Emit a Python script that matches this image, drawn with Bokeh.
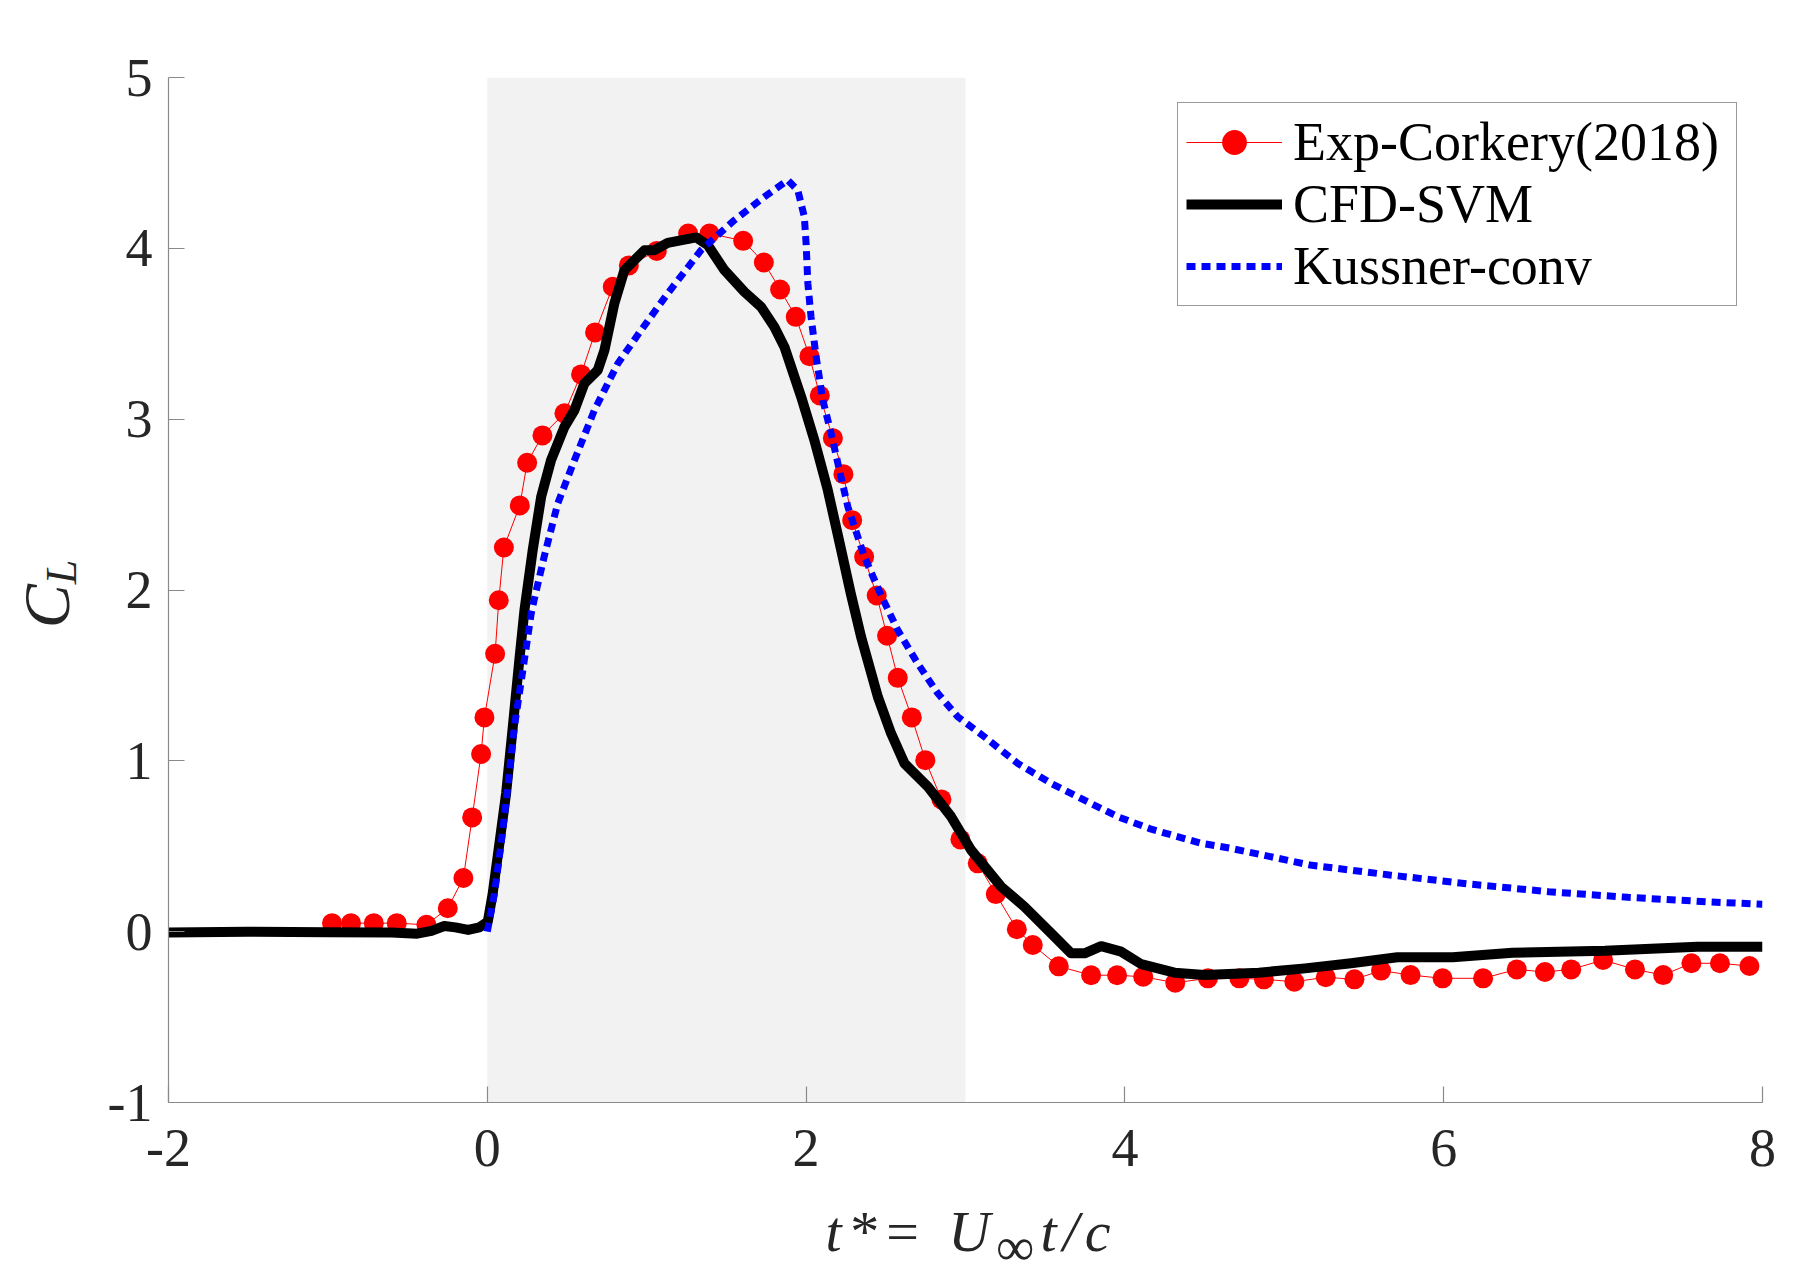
from bokeh.plotting import figure
from bokeh.models import Range1d, FixedTicker, Legend, LegendItem, Div
from bokeh.layouts import column, row
from bokeh.embed import file_html
from bokeh.resources import INLINE

# ---------------- data ----------------
exp_t = [-0.974, -0.855, -0.712, -0.568, -0.382, -0.248, -0.150, -0.095, -0.039, -0.018,
         0.049, 0.072, 0.104, 0.204, 0.250, 0.346, 0.484, 0.588, 0.676, 0.787,
         0.888, 1.063, 1.260, 1.394, 1.605, 1.735, 1.837, 1.935, 2.021, 2.086,
         2.168, 2.234, 2.289, 2.364, 2.443, 2.508, 2.575, 2.663, 2.748, 2.849,
         2.968, 3.077, 3.190, 3.322, 3.422, 3.585, 3.788, 3.951, 4.115, 4.316,
         4.521, 4.718, 4.872, 5.063, 5.260, 5.440, 5.607, 5.792, 5.993, 6.247,
         6.458, 6.635, 6.800, 7.000, 7.200, 7.377, 7.554, 7.733, 7.918]
exp_cl = [0.05, 0.05, 0.05, 0.05, 0.04, 0.137, 0.314, 0.669, 1.040, 1.254,
          1.627, 1.940, 2.249, 2.495, 2.745, 2.905, 3.034, 3.262, 3.508, 3.775,
          3.900, 3.985, 4.087, 4.087, 4.044, 3.917, 3.759, 3.599, 3.369, 3.139,
          2.889, 2.678, 2.409, 2.194, 1.968, 1.732, 1.486, 1.254, 1.004, 0.774,
          0.540, 0.400, 0.220, 0.014, -0.078, -0.203, -0.255, -0.255, -0.264, -0.299,
          -0.273, -0.273, -0.279, -0.293, -0.267, -0.279, -0.228, -0.254, -0.273, -0.273,
          -0.221, -0.236, -0.221, -0.166, -0.221, -0.254, -0.185, -0.185, -0.201]

cfd_t = [-2.0, -1.5, -1.0, -0.6, -0.44, -0.35, -0.27, -0.20, -0.12, -0.05,
         0.003, 0.034, 0.076, 0.118, 0.160, 0.201, 0.233, 0.285, 0.338, 0.400,
         0.484, 0.547, 0.609, 0.693, 0.735, 0.797, 0.860, 0.986, 1.048, 1.132,
         1.310, 1.383, 1.488, 1.613, 1.718, 1.801, 1.864, 1.969, 2.052, 2.136,
         2.215, 2.280, 2.345, 2.450, 2.533, 2.617, 2.764, 2.910, 3.035, 3.224,
         3.370, 3.538, 3.663, 3.747, 3.851, 3.977, 4.102, 4.311, 4.500, 4.840,
         5.130, 5.419, 5.709, 6.056, 6.432, 7.011, 7.591, 8.0]
cfd_cl = [-0.005, 0.0, -0.003, -0.005, -0.012, 0.005, 0.033, 0.025, 0.010, 0.025,
          0.058, 0.224, 0.517, 0.810, 1.200, 1.590, 1.882, 2.234, 2.546, 2.760,
          2.955, 3.053, 3.209, 3.287, 3.404, 3.677, 3.872, 3.989, 3.989, 4.032,
          4.064, 4.019, 3.872, 3.745, 3.657, 3.540, 3.423, 3.131, 2.877, 2.585,
          2.255, 1.980, 1.726, 1.375, 1.161, 0.985, 0.848, 0.673, 0.478, 0.263,
          0.146, -0.010, -0.127, -0.127, -0.085, -0.117, -0.190, -0.240, -0.254, -0.240,
          -0.215, -0.185, -0.150, -0.150, -0.123, -0.112, -0.088, -0.088]

kus_t = [0.0, 0.045, 0.087, 0.129, 0.170, 0.223, 0.275, 0.296, 0.358, 0.442,
         0.547, 0.672, 0.819, 0.965, 1.132, 1.341, 1.550, 1.738, 1.885, 1.948,
         1.989, 2.000, 2.011, 2.031, 2.063, 2.105, 2.157, 2.209, 2.262, 2.366,
         2.470, 2.575, 2.700, 2.826, 2.951, 3.118, 3.328, 3.537, 3.746, 3.955,
         4.165, 4.479, 4.663, 5.162, 5.660, 6.159, 6.658, 7.157, 7.655, 8.0]
kus_cl = [0.0, 0.224, 0.517, 0.849, 1.200, 1.531, 1.860, 1.951, 2.200, 2.507,
          2.760, 3.053, 3.326, 3.521, 3.736, 3.989, 4.165, 4.301, 4.399, 4.340,
          4.184, 4.028, 3.794, 3.599, 3.365, 3.112, 2.917, 2.702, 2.487, 2.194,
          1.970, 1.765, 1.570, 1.395, 1.258, 1.141, 0.985, 0.868, 0.770, 0.673,
          0.600, 0.517, 0.488, 0.390, 0.332, 0.279, 0.234, 0.201, 0.175, 0.160]

shade_t = [0.0, 3.0]
x_ticks = [-2, 0, 2, 4, 6, 8]
y_ticks = [-1, 0, 1, 2, 3, 4, 5]
x_tick_labels = {-2: "-2", 0: "0", 2: "2", 4: "4", 6: "6", 8: "8"}
y_tick_labels = {-1: "-1", 0: "0", 1: "1", 2: "2", 3: "3", 4: "4", 5: "5"}
series_names = ["Exp-Corkery(2018)", "CFD-SVM", "Kussner-conv"]

SERIF = "Liberation Serif"
AX_GRAY = "#262626"

LEFT_DIV_W = 90
FRAME_W, FRAME_H = 1594, 1025
P_LEFT, P_RIGHT, P_TOP, P_BOTTOM = 78, 44, 77, 100
P_H = P_TOP + FRAME_H + P_BOTTOM
X_DIV_H = 80

p = figure(frame_width=FRAME_W, frame_height=FRAME_H,
           x_range=Range1d(x_ticks[0], x_ticks[-1]),
           y_range=Range1d(y_ticks[0], y_ticks[-1]),
           output_backend="svg", toolbar_location=None,
           min_border_left=P_LEFT, min_border_right=P_RIGHT,
           min_border_top=P_TOP, min_border_bottom=P_BOTTOM)
p.outline_line_color = None
p.background_fill_color = "white"
p.border_fill_color = "white"
p.xgrid.visible = False
p.ygrid.visible = False

# shaded region
p.quad(left=shade_t[0], right=shade_t[1], bottom=y_ticks[0], top=y_ticks[-1],
       fill_color="#f2f2f2", line_color=None)

r_line = p.line(exp_t, exp_cl, line_color="#ff0000", line_width=1)
r_pts = p.scatter(exp_t, exp_cl, size=20, fill_color="#ff0000", line_color=None)
r_cfd = p.line(cfd_t, cfd_cl, line_color="black", line_width=10, line_join="round")
r_kus = p.line(kus_t, kus_cl, line_color="#0000ff", line_width=7, line_dash="9 6")

# axes
for ax in (p.xaxis[0], p.yaxis[0]):
    ax.axis_line_color = "#8a8a8a"
    ax.axis_line_width = 1.2
    ax.major_tick_line_color = "#8a8a8a"
    ax.major_tick_line_width = 1.2
    ax.major_tick_in = 16
    ax.major_tick_out = 0
    ax.minor_tick_line_color = None
    ax.major_label_text_font = SERIF
    ax.major_label_text_font_size = "54px"
    ax.major_label_text_color = AX_GRAY
    ax.axis_label = None

p.xaxis[0].ticker = FixedTicker(ticks=x_ticks)
p.yaxis[0].ticker = FixedTicker(ticks=y_ticks)
p.xaxis[0].major_label_overrides = x_tick_labels
p.yaxis[0].major_label_overrides = y_tick_labels
p.xaxis[0].major_label_standoff = 27
p.yaxis[0].major_label_standoff = 16

# legend
legend = Legend(items=[
    LegendItem(label=series_names[0], renderers=[r_line, r_pts]),
    LegendItem(label=series_names[1], renderers=[r_cfd]),
    LegendItem(label=series_names[2], renderers=[r_kus]),
], location="top_right")
legend.margin = 25
legend.padding = 8
legend.spacing = 0
legend.label_height = 62
legend.glyph_height = 62
legend.glyph_width = 96
legend.label_standoff = 11
legend.label_width = 435
legend.label_text_font = SERIF
legend.label_text_font_size = "54px"
legend.label_text_color = "black"
legend.border_line_color = "#333333"
legend.border_line_width = 1
legend.background_fill_color = "white"
legend.background_fill_alpha = 1.0
p.add_layout(legend)

# axis titles (with sub-scripts) as real HTML text
font_css = "font-family:'Liberation Serif',serif;color:%s;white-space:nowrap;" % AX_GRAY
y_title = (
    '<div style="position:relative;width:%dpx;height:%dpx;">'
    '<div style="position:absolute;left:51px;top:594px;'
    'transform:translate(-50%%,-50%%) rotate(-90deg);%s'
    'font-style:italic;font-size:66px;line-height:66px;">'
    'C<span style="font-size:44px;position:relative;top:7px;">L</span></div></div>'
) % (LEFT_DIV_W, P_H, font_css)

x_title = (
    '<div style="position:relative;width:%dpx;height:%dpx;">'
    '<div style="position:absolute;left:%dpx;width:%dpx;top:1px;text-align:center;%s'
    'font-style:italic;font-size:58px;line-height:58px;letter-spacing:6px;">'
    't*= U<span style="font-style:normal;font-size:54px;position:relative;top:14px;">&#8734;</span>t/c'
    '</div></div>'
) % (LEFT_DIV_W + P_LEFT + FRAME_W + P_RIGHT, X_DIV_H, LEFT_DIV_W + P_LEFT + 6, FRAME_W, font_css)

ydiv = Div(text=y_title, width=LEFT_DIV_W, height=P_H, margin=(0, 0, 0, 0))
xdiv = Div(text=x_title, width=LEFT_DIV_W + P_LEFT + FRAME_W + P_RIGHT, height=X_DIV_H,
           margin=(0, 0, 0, 0))

layout = column(row(ydiv, p, spacing=0), xdiv, spacing=0)

open("out.html", "w").write(file_html(layout, INLINE))
